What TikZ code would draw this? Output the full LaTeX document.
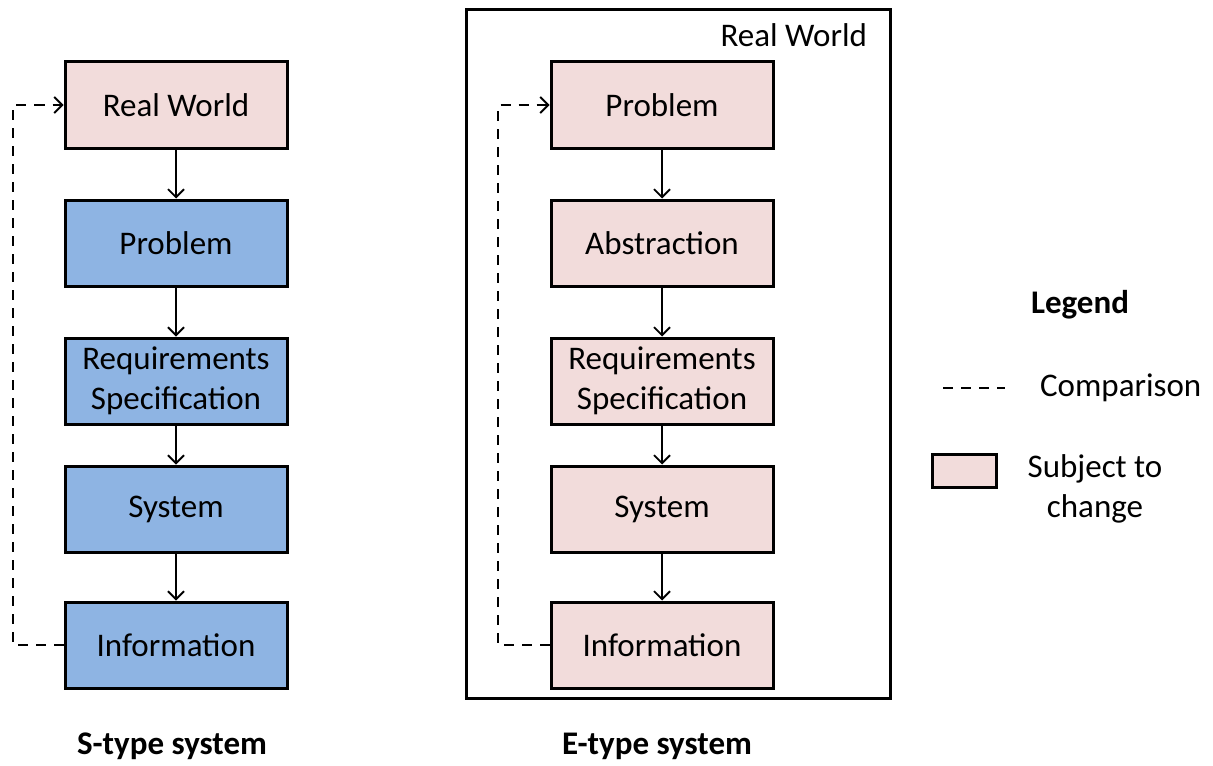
\documentclass[tikz,border=0pt]{standalone}
\usepackage{fontspec}
\setmainfont{Carlito}
\usetikzlibrary{arrows.meta}
\definecolor{pinkbox}{HTML}{F2DCDB}
\definecolor{bluebox}{HTML}{8EB4E3}
\tikzset{
  stagebox/.style={draw=black, line width=1.5pt, minimum width=111pt, minimum height=43pt,
    align=center, font=\fontsize{16.5}{20}\selectfont, inner sep=0pt},
  flow/.style={-{Straight Barb[length=4pt,width=8pt]}, line width=0.9pt},
  compare/.style={dashed, dash pattern=on 5pt off 4pt, line width=0.9pt},
  plain/.style={font=\fontsize{16.5}{20}\selectfont, align=center},
}
\begin{document}
\begin{tikzpicture}[x=0.5pt,y=-0.5pt]
    \useasboundingbox (0,0) rectangle (1213,765);
    % S-type column
    \node[stagebox, fill=pinkbox] (sworld) at (176,105) {Real World};
    \node[stagebox, fill=bluebox] (sprob)  at (176,243) {Problem};
    \node[stagebox, fill=bluebox] (sreq)   at (176,381) {Requirements\\Specification};
    \node[stagebox, fill=bluebox] (ssys)   at (176,509) {System};
    \node[stagebox, fill=bluebox] (sinfo)  at (176,645) {Information};
    \draw[flow] (sworld) -- (sprob);
    \draw[flow] (sprob) -- (sreq);
    \draw[flow] (sreq) -- (ssys);
    \draw[flow] (ssys) -- (sinfo);
    \coordinate (sbend) at (13,0);
    \draw[compare, -{Straight Barb[length=4pt,width=8pt]}] (sinfo.west) -| (sbend |- sworld.west) -- (sworld.west);
    \node[plain, font=\fontsize{16.5}{20}\selectfont\bfseries] (scap) at (172,746) {S-type system};

    % E-type column, inside the real world frame
    \draw[line width=1.5pt] (466,10) rectangle (890,698);
    \node[plain, anchor=north east] (ewlabel) at (874,17) {Real World};
    \node[stagebox, fill=pinkbox] (eprob) at (662,105) {Problem};
    \node[stagebox, fill=pinkbox] (eabs)  at (662,243) {Abstraction};
    \node[stagebox, fill=pinkbox] (ereq)  at (662,381) {Requirements\\Specification};
    \node[stagebox, fill=pinkbox] (esys)  at (662,509) {System};
    \node[stagebox, fill=pinkbox] (einfo) at (662,645) {Information};
    \draw[flow] (eprob) -- (eabs);
    \draw[flow] (eabs) -- (ereq);
    \draw[flow] (ereq) -- (esys);
    \draw[flow] (esys) -- (einfo);
    \coordinate (ebend) at (498,0);
    \draw[compare, -{Straight Barb[length=4pt,width=8pt]}] (einfo.west) -| (ebend |- eprob.west) -- (eprob.west);
    \node[plain, font=\fontsize{16.5}{20}\selectfont\bfseries] (ecap) at (657,746) {E-type system};

    % legend
    \node[plain, font=\fontsize{16.5}{20}\selectfont\bfseries] (legend) at (1080,305) {Legend};
    \coordinate (dashstart) at (943,388);
    \coordinate (dashend) at (1005,388);
    \draw[compare] (dashstart) -- (dashend);
    \node[plain, anchor=west] (cmp) at (1033,388) {Comparison};
    \node[draw=black, line width=1.5pt, fill=pinkbox, minimum width=32pt, minimum height=16.5pt, inner sep=0pt] (keybox) at (964,471) {};
    \node[plain] (subj) at (1095,489) {Subject to\\change};
  \end{tikzpicture}
\end{document}
